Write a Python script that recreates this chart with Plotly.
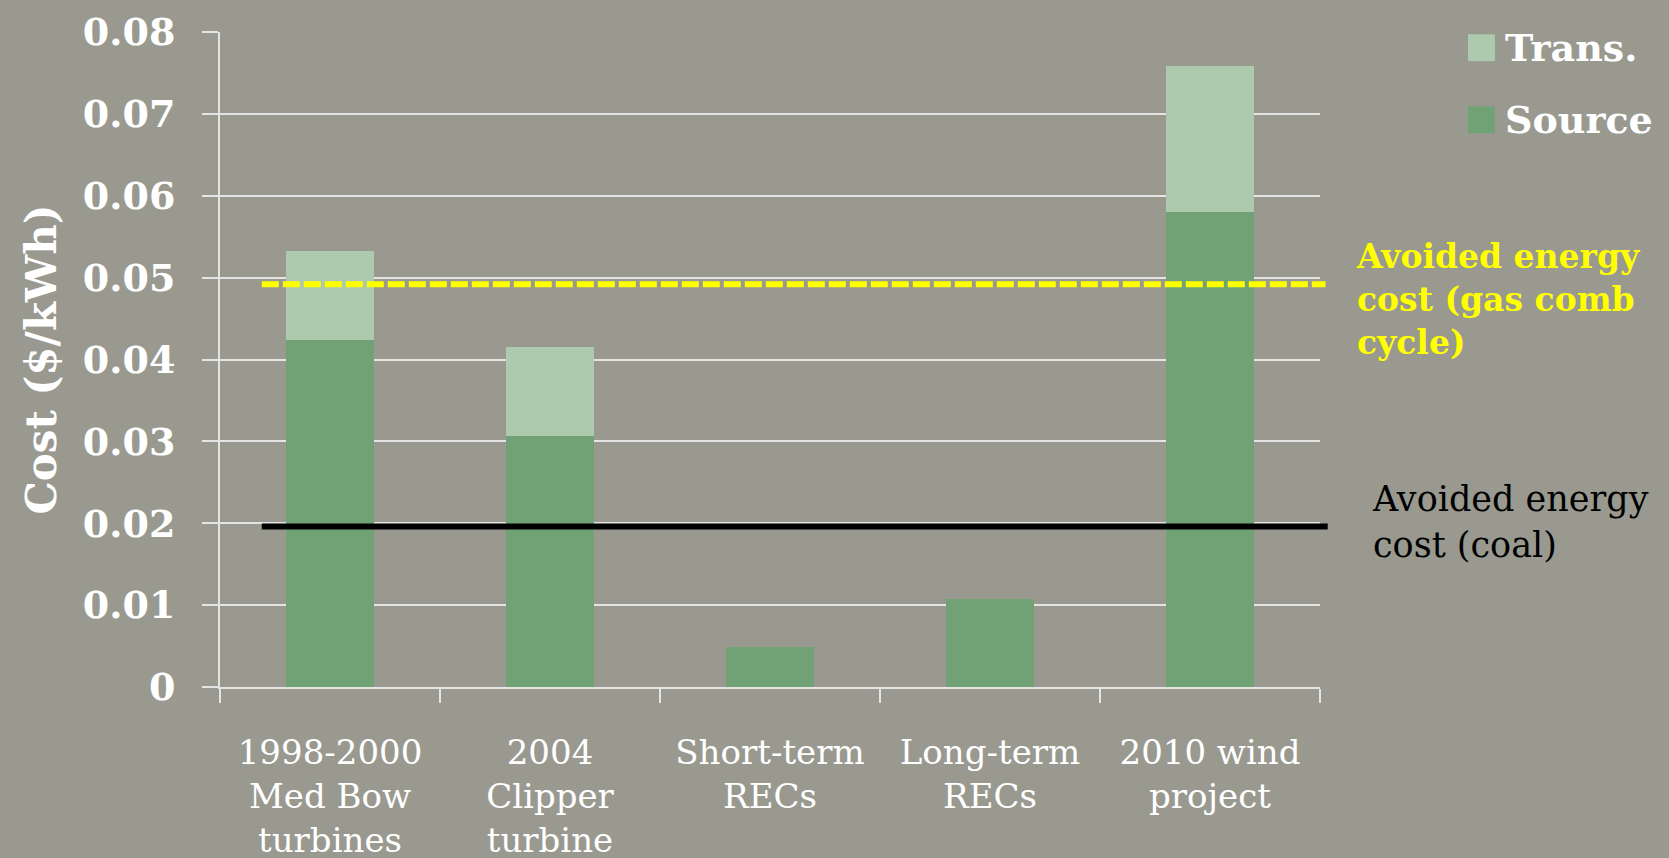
import plotly.graph_objects as go

categories = ["1998-2000<br>Med Bow<br>turbines", "2004<br>Clipper<br>turbine",
              "Short-term<br>RECs", "Long-term<br>RECs", "2010 wind<br>project"]
source_vals = [0.0424, 0.0307, 0.0049, 0.0108, 0.0580]
trans_vals = [0.0108, 0.0108, 0, 0, 0.0178]
gas_cost = 0.0492
coal_cost = 0.0196
y_tickvals = [0, 0.01, 0.02, 0.03, 0.04, 0.05, 0.06, 0.07, 0.08]
y_ticktext = ["0", "0.01", "0.02", "0.03", "0.04", "0.05", "0.06", "0.07", "0.08"]
legend_names = ["Trans.", "Source"]

BG = "#999990"
GRID = "#E4E4E4"
SOURCE_C = "#71A275"
TRANS_C = "#ADCAAE"
SERIF = "DejaVu Serif"

fig = go.Figure()
fig.add_trace(go.Bar(x=categories, y=source_vals, name="Source", showlegend=False,
                     marker=dict(color=SOURCE_C, line=dict(width=0))))
fig.add_trace(go.Bar(x=categories, y=trans_vals, name="Trans.", showlegend=False,
                     marker=dict(color=TRANS_C, line=dict(width=0))))

fig.add_shape(type="line", xref="paper", yref="y", x0=0.038, x1=1.005, y0=gas_cost, y1=gas_cost,
              line=dict(color="#FFFF00", width=6, dash="17px,4px"))
fig.add_shape(type="line", xref="paper", yref="y", x0=0.038, x1=1.007, y0=coal_cost, y1=coal_cost,
              line=dict(color="#000000", width=6))

fig.add_annotation(xref="paper", yref="y", x=1.031, y=gas_cost, yshift=-15, xanchor="left", yanchor="middle",
                   text="<b>Avoided energy<br>cost (gas comb<br>cycle)</b>", showarrow=False, align="left",
                   font=dict(family=SERIF, size=33, color="#FFFF00"))
fig.add_annotation(xref="paper", yref="y", x=1.045, y=coal_cost, yshift=5, xanchor="left", yanchor="middle",
                   text="Avoided energy<br>cost (coal)", showarrow=False, align="left",
                   font=dict(family=SERIF, size=35, color="#000000"))

# manual legend (large square swatches)
legend_colors = [TRANS_C, SOURCE_C]
legend_y = [0.976, 0.866]
for name, col, yc in zip(legend_names, legend_colors, legend_y):
    fig.add_shape(type="rect", xref="paper", yref="paper", x0=1.1345, x1=1.159,
                  y0=yc - 0.0205, y1=yc + 0.0205, fillcolor=col, line=dict(width=0))
    fig.add_annotation(xref="paper", yref="paper", x=1.166, y=yc, xanchor="left", yanchor="middle",
                       text="<b>" + name + "</b>", showarrow=False,
                       font=dict(family=SERIF, size=38, color="white"))

fig.update_layout(
    width=1669, height=858,
    paper_bgcolor=BG, plot_bgcolor=BG,
    barmode="stack", bargap=0.6,
    margin=dict(l=220, r=349, t=32, b=171, pad=0, autoexpand=False),
    font=dict(family=SERIF, color="white"),
    showlegend=False,
)
fig.update_xaxes(showline=True, linecolor=GRID, linewidth=2, ticks="outside", ticklen=14,
                 tickcolor=GRID, tickwidth=2, tickson="boundaries", showgrid=False,
                 automargin=False,
                 tickfont=dict(family=SERIF, size=34, color="white"), ticklabelstandoff=34)
fig.update_yaxes(range=[0, 0.08], tickvals=y_tickvals, ticktext=y_ticktext,
                 showline=True, linecolor=GRID, linewidth=2, ticks="outside", ticklen=16,
                 tickcolor=GRID, tickwidth=2, showgrid=True, gridcolor=GRID, gridwidth=2,
                 zeroline=False, automargin=False,
                 tickfont=dict(family=SERIF, size=38, color="white", weight="bold"),
                 ticklabelstandoff=19,
                 title=dict(text="<b>Cost ($/kWh)</b>", standoff=13,
                            font=dict(family=SERIF, size=42, color="white")))

fig.write_html("out.html", config={"displayModeBar": False},
               post_script="document.body.style.margin='0';document.body.style.background='#999990';")
